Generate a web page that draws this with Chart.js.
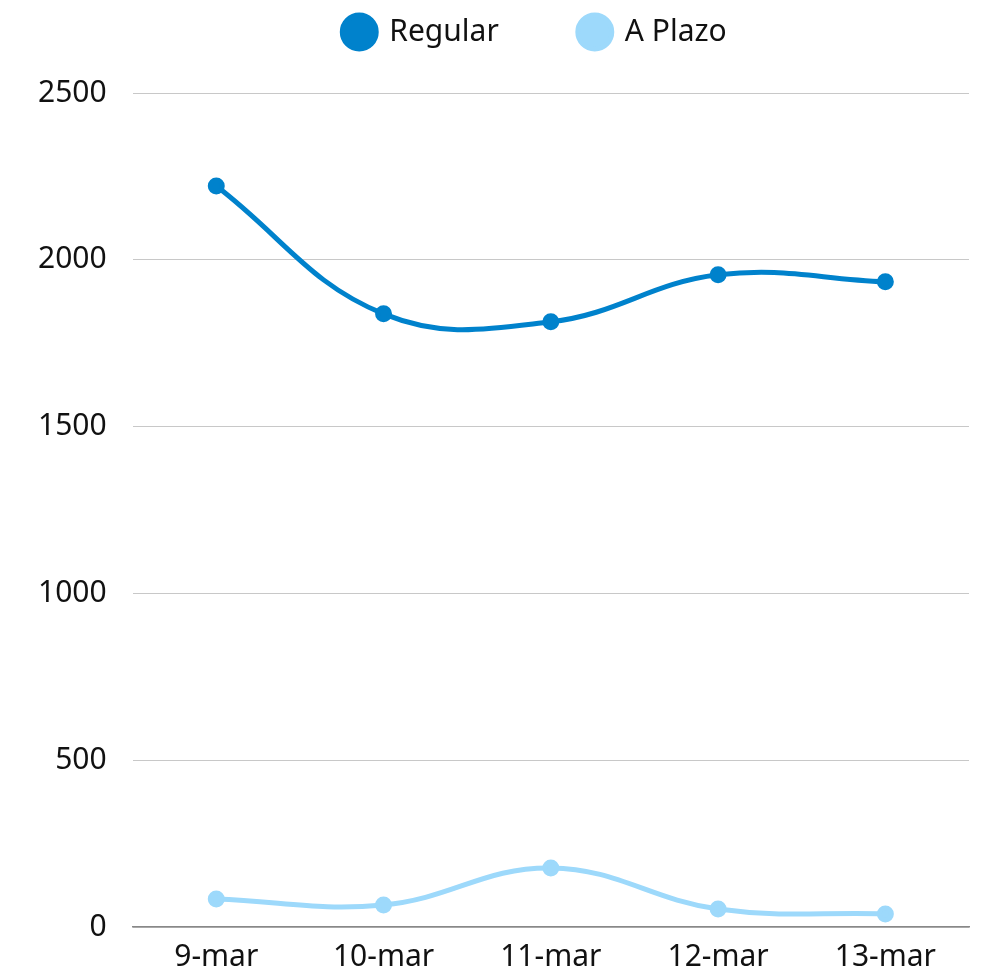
<!DOCTYPE html>
<html>
<head>
<meta charset="utf-8">
<script src="https://cdn.jsdelivr.net/npm/chart.js@4"></script>
<style>
  html, body { margin: 0; padding: 0; background: #fff; }
  #wrap { width: 989px; height: 973px; position: relative; }
</style>
</head>
<body>
<div id="wrap"><canvas id="salesChart"></canvas></div>
<script>
const days = ['9-mar', '10-mar', '11-mar', '12-mar', '13-mar'];
const regular = [2221, 1838, 1814, 1955, 1934];
const aPlazo = [84, 66, 177, 54, 39];
const yTicks = [0, 500, 1000, 1500, 2000, 2500];

// extra space below the legend, and centre it over the plot area
const legendGap = {
    id: 'legendGap',
    beforeInit(chart) {
        const fit = chart.legend.fit;
        chart.legend.fit = function() {
            fit.bind(chart.legend)();
            this.height += 36;
        };
    },
    afterLayout(chart) {
        chart.legend.left += 45;
        chart.legend.right += 45;
    }
};

document.addEventListener('DOMContentLoaded', function() {
    const ctx = document.getElementById('salesChart');
    Chart.defaults.font.family = '"Noto Sans", sans-serif';
    Chart.defaults.color = '#111';

    new Chart(ctx, {
        type: 'line',
        data: {
            labels: days,
            datasets: [{
                label: 'Regular',
                data: regular,
                borderColor: '#0082cc',
                backgroundColor: '#0082cc',
                borderWidth: 5,
                pointRadius: 6,
                pointHoverRadius: 6,
                tension: 0.4
            }, {
                label: 'A Plazo',
                data: aPlazo,
                borderColor: '#9dd9fb',
                backgroundColor: '#9dd9fb',
                borderWidth: 5,
                pointRadius: 6,
                pointHoverRadius: 6,
                tension: 0.4
            }]
        },
        options: {
            responsive: true,
            maintainAspectRatio: false,
            animation: false,
            layout: {
                padding: { left: 12, right: 20, top: -64, bottom: -14 }
            },
            scales: {
                x: {
                    offset: true,
                    grid: { display: false, drawTicks: false },
                    border: { color: '#888', width: 1.5 },
                    ticks: { font: { size: 30 }, padding: 12 }
                },
                y: {
                    min: 0,
                    max: 2500,
                    afterBuildTicks: function(axis) {
                        axis.ticks = yTicks.map(v => ({ value: v }));
                    },
                    grid: { color: '#c8c8c8', drawTicks: false, lineWidth: 1 },
                    border: { display: false },
                    ticks: {
                        font: { size: 30 },
                        padding: 26,
                        callback: function(value) { return String(value); }
                    }
                }
            },
            plugins: {
                legend: {
                    position: 'top',
                    labels: {
                        usePointStyle: true,
                        pointStyle: 'circle',
                        boxWidth: 30,
                        boxHeight: 24,
                        padding: 81,
                        font: { size: 30 }
                    }
                },
                tooltip: { enabled: false }
            }
        },
        plugins: [legendGap]
    });
});
</script>
</body>
</html>
